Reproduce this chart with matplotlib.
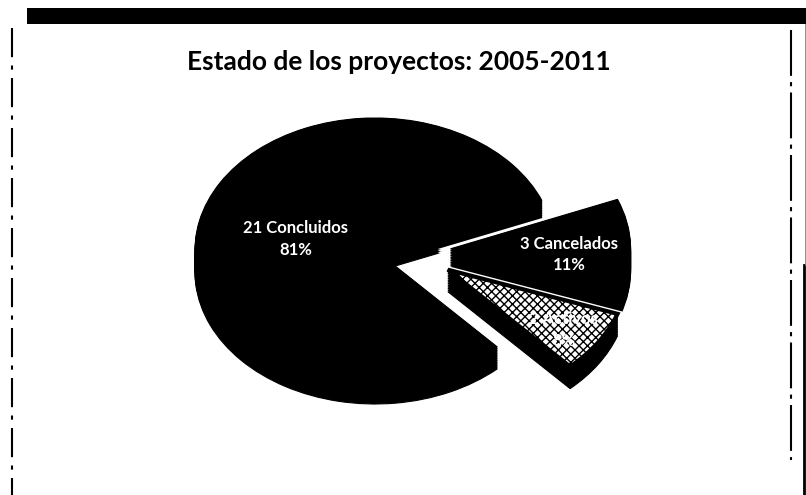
import matplotlib
matplotlib.use("Agg")
import matplotlib.pyplot as plt
from matplotlib.patches import Wedge, Rectangle
from matplotlib.lines import Line2D
import numpy as np

# ---- data ----
title = "Estado de los proyectos: 2005-2011"
categories = ["Concluidos", "Activos", "Cancelados"]
counts = [21, 2, 3]
percents = [81, 8, 11]

# ---- figure ----
W, H = 806, 495
fig = plt.figure(figsize=(W / 100, H / 100), dpi=100)
fig.patch.set_facecolor("white")
ax = fig.add_axes([0, 0, 1, 1])

cx, cy = 375, 250      # pie centre in px (from top-left)
rx, ry = 180, 132      # ellipse radii in px
depth_px = 22

wedges, _ = ax.pie(counts, startangle=22, counterclock=True,
                   explode=[0, 0.42, 0.42], radius=1,
                   colors=["black", "black", "black"],
                   wedgeprops=dict(linewidth=0))
ax.set_aspect("auto")
ax.set_xlim(-cx / rx, (W - cx) / rx)
ax.set_ylim(-(H - cy) / ry, cy / ry)
ax.axis("off")

depth = depth_px / ry
# the two exploded slices move together as one block (Activos under Cancelados)
ic, ia = categories.index("Cancelados"), categories.index("Activos")
cc = wedges[ic].center
wedges[ia].set_center((cc[0] - 0.015, cc[1] - depth * 0.95))

# back-to-front: Concluidos, Cancelados, Activos
order = [0, ic, ia]
z = 1
for i in order:
    w = wedges[i]
    c = w.center
    steps = np.linspace(depth, 0, 14)
    if i != 0:
        # white halo separating the exploded slices from what lies behind
        for k in steps:
            ax.add_patch(Wedge((c[0], c[1] - k), w.r, w.theta1, w.theta2,
                               facecolor="white", edgecolor="white",
                               linewidth=5, zorder=z))
        z += 1
    for k in steps:
        ax.add_patch(Wedge((c[0], c[1] - k), w.r, w.theta1, w.theta2,
                           facecolor="black", edgecolor="black",
                           linewidth=0.8, zorder=z))
    z += 1
    w.set_zorder(z)
    if categories[i] == "Activos":
        w.set_facecolor("white")
        w.set_edgecolor("black")
        w.set_hatch("xxxx")
        w.set_linewidth(0)
        border = Wedge(c, w.r, w.theta1, w.theta2, facecolor="none",
                       edgecolor="black", linewidth=3, zorder=z + 0.5)
        ax.add_patch(border)
    z += 1

label_dist = {"Concluidos": 0.45, "Cancelados": 0.66, "Activos": 0.79}
label_turn = {"Concluidos": 2.0, "Cancelados": -5.0, "Activos": -2.0}
for i, w in enumerate(wedges):
    name = categories[i]
    ang = np.deg2rad((w.theta1 + w.theta2) / 2 + label_turn[name])
    d = label_dist[name]
    x = w.center[0] + d * np.cos(ang)
    y = w.center[1] + d * np.sin(ang)
    ax.text(x, y, f"{counts[i]} {name}\n{percents[i]}%",
            ha="center", va="center", color="white", fontsize=12,
            fontweight="bold", family=["Lato", "DejaVu Sans"],
            linespacing=1.4, zorder=50)

# title
fig.text(399 / W, 1 - 62 / H, title, ha="center", va="center",
         fontsize=19, fontweight="bold", family=["Lato", "DejaVu Sans"])

# scanned frame decorations
fig.add_artist(Rectangle((27 / W, 1 - 24 / H), (W - 27) / W, 16 / H,
                         transform=fig.transFigure, facecolor="black",
                         edgecolor="none"))
fig.add_artist(Line2D([12 / W, 12 / W], [1 - 28 / H, 0],
                      transform=fig.transFigure, color="black",
                      linewidth=1.5, linestyle=(0, (14, 4, 2, 4))))
fig.add_artist(Line2D([791 / W, 791 / W], [1 - 30 / H, 1 - 460 / H],
                      transform=fig.transFigure, color="black",
                      linewidth=1.5, linestyle=(0, (22, 3, 2, 3))))
fig.add_artist(Line2D([804 / W, 804 / W], [1 - 265 / H, 0],
                      transform=fig.transFigure, color="black",
                      linewidth=2.0))
fig.add_artist(Line2D([805 / W, 805 / W], [1 - 24 / H, 1 - 265 / H],
                      transform=fig.transFigure, color="#777777",
                      linewidth=0.6))

fig.savefig("out.png", dpi=100, facecolor="white")
